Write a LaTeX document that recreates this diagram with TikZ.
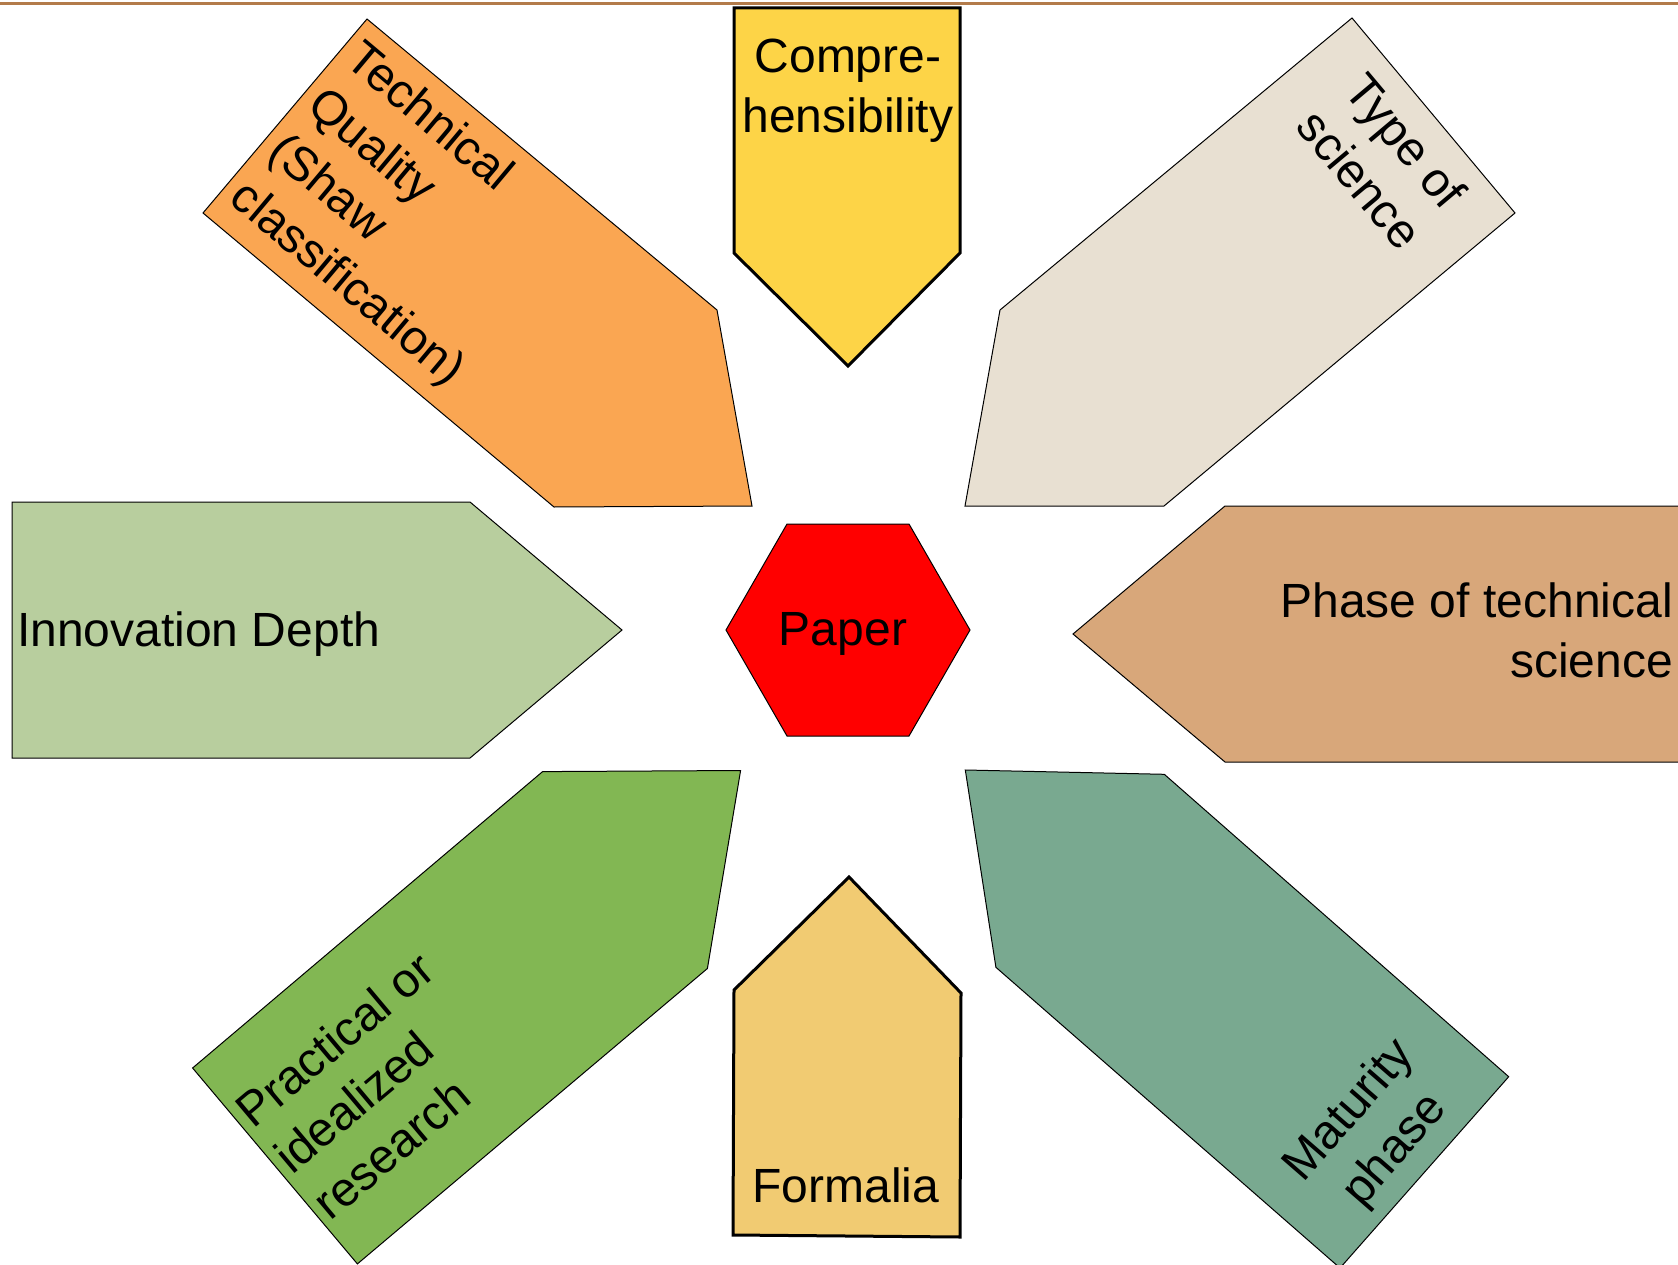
\documentclass[tikz,border=0pt]{standalone}
\usepackage{fontspec}
\setmainfont{Liberation Sans}
\definecolor{topbrown}{HTML}{B37B4A}
\definecolor{compyellow}{HTML}{FDD447}
\definecolor{techorange}{HTML}{FAA652}
\definecolor{typebeige}{HTML}{E8E0D2}
\definecolor{innogreen}{HTML}{B8CE9E}
\definecolor{phasetan}{HTML}{D8A77A}
\definecolor{practgreen}{HTML}{82B753}
\definecolor{maturteal}{HTML}{79A990}
\definecolor{formyellow}{HTML}{F1CB72}
\begin{document}
\begin{tikzpicture}[x=1pt,y=-1pt]
    \tikzstyle{every node}=[inner sep=0pt,font=\fontsize{48}{60}\selectfont];
    \tikzstyle{thin shape}=[draw=black,line width=1pt];
    \tikzstyle{thick shape}=[draw=black,line width=3pt];
    \useasboundingbox (0,0) rectangle (1678,1265);
    \draw[topbrown,line width=3.5pt] (0,3.5) -- (1678,3.5);
    %shapes
    \filldraw[thick shape,fill=compyellow] (734,8) -- (960,8) -- (960,253) -- (848,366) -- (734,253) -- cycle;
    \filldraw[thin shape,fill=techorange] (367,19) -- (717,310) -- (752,506) -- (554,507) -- (203,213) -- cycle;
    \filldraw[thin shape,fill=typebeige] (1352,18) -- (1515,213) -- (1164,506) -- (965,506) -- (1000,310) -- cycle;
    \filldraw[thin shape,fill=innogreen] (12,502) -- (470,502) -- (622,630) -- (470,758) -- (12,758) -- cycle;
    \filldraw[thin shape,fill=red] (726,630) -- (787,524) -- (909,524) -- (970,630) -- (909,736) -- (787,736) -- cycle;
    \filldraw[thin shape,fill=phasetan] (1073,634) -- (1225,506) -- (1682,506) -- (1682,762) -- (1225,762) -- cycle;
    \filldraw[thin shape,fill=practgreen] (542.6,771.6) -- (740.6,770.5) -- (707.4,968.5) -- (357.4,1263.9) -- (192.6,1068) -- cycle;
    \filldraw[thin shape,fill=maturteal] (965.3,770) -- (1164.3,774.3) -- (1508.7,1076.7) -- (1340,1268) -- (995.9,967.3) -- cycle;
    \filldraw[thick shape,fill=formyellow] (734,990) -- (849,877) -- (961,993) -- (960,1237) -- (733,1235) -- cycle;
    %labels
    \node (comp) at (848,39) [anchor=north,align=center] {Compre-\\hensibility};
    \node (tech) at (366,37) [anchor=north west,rotate=-40,align=left] {Technical\\Quality\\(Shaw\\classification)};
    \node (type) at (1383,160) [rotate=-50,align=center] {Type of\\science};
    \node (inno) at (17,646) [anchor=base west] {Innovation Depth};
    \node (paper) at (843,645) [anchor=base] {Paper};
    \node (phase) at (1673,583) [anchor=north east,align=right] {Phase of technical\\science};
    \node (pract) at (231,1103) [anchor=north west,rotate=40,align=left] {Practical or\\idealized\\research};
    \node (matur) at (1373,1131) [rotate=49,align=center] {Maturity\\phase};
    \node (form) at (846,1202) [anchor=base] {Formalia};
\end{tikzpicture}
\end{document}
